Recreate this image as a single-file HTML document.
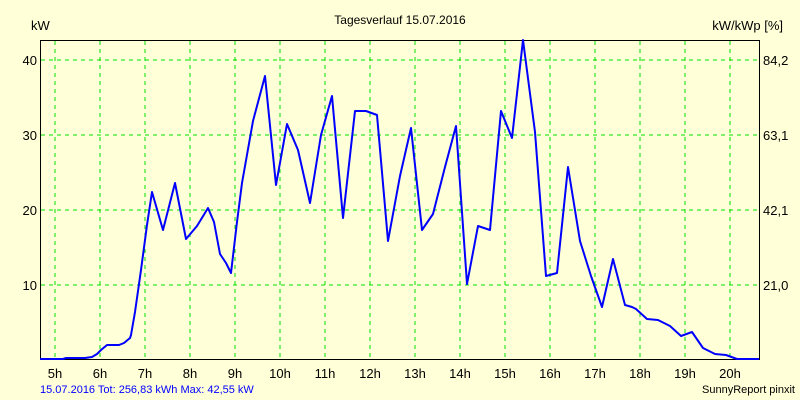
<!DOCTYPE html>
<html><head><meta charset="utf-8"><style>
body{margin:0;background:#ffffd8;}
svg{display:block;font-family:"Liberation Sans",sans-serif;}
</style></head><body>
<svg width="800" height="400" viewBox="0 0 800 400">
<rect width="800" height="400" fill="#ffffd8"/>
<g stroke="#00e000" stroke-width="1" stroke-dasharray="4,4">
<line x1="55" y1="41" x2="55" y2="359"/><line x1="100" y1="41" x2="100" y2="359"/><line x1="145" y1="41" x2="145" y2="359"/><line x1="190" y1="41" x2="190" y2="359"/><line x1="235" y1="41" x2="235" y2="359"/><line x1="280" y1="41" x2="280" y2="359"/><line x1="325" y1="41" x2="325" y2="359"/><line x1="370" y1="41" x2="370" y2="359"/><line x1="415" y1="41" x2="415" y2="359"/><line x1="460" y1="41" x2="460" y2="359"/><line x1="505" y1="41" x2="505" y2="359"/><line x1="550" y1="41" x2="550" y2="359"/><line x1="595" y1="41" x2="595" y2="359"/><line x1="640" y1="41" x2="640" y2="359"/><line x1="685" y1="41" x2="685" y2="359"/><line x1="730" y1="41" x2="730" y2="359"/>
<line x1="41" y1="60" x2="759" y2="60"/><line x1="41" y1="135" x2="759" y2="135"/><line x1="41" y1="210" x2="759" y2="210"/><line x1="41" y1="285" x2="759" y2="285"/>
</g>
<path d="M40.5,359.5V40.5H759.5V359.5H40.5" fill="none" stroke="#000" stroke-width="1"/>
<polyline fill="none" stroke="#0000ff" stroke-width="2" stroke-linejoin="round" points="40,359 63,359 66,358 85,358 92,357 97,354 101,350 107,345 119,345 124,343 130,338 131,335 135,312 141,270 147,225 152,192 163,230 175,183 186,239 197,226 208,208 214,222 220,254 226,263 231,273 237,222 242,183 253,121 265,76 276,185 287,124 298,150 310,203 321,135 332,96 343,218 355,111 366,111 377,115 388,241 400,176 411,128 422,230 433,214 445,167 456,126 467,284 478,226 490,230 501,111 512,138 523,40 535,132 546,276 557,273 568,167 580,241 591,276 602,307 613,259 625,305 632,307 636,309 647,319 658,320 670,326 681,336 692,332 703,348 715,354 726,355 737,359 759,359"/>
<g font-size="13" fill="#000">
<text x="400" y="24" text-anchor="middle" font-size="12">Tagesverlauf 15.07.2016</text>
<text x="31" y="30">kW</text>
<text x="783" y="30" text-anchor="end">kW/kWp [%]</text>
<text x="37" y="65" text-anchor="end">40</text><text x="37" y="140" text-anchor="end">30</text><text x="37" y="215" text-anchor="end">20</text><text x="37" y="290" text-anchor="end">10</text>
<text x="763" y="65">84,2</text><text x="763" y="140">63,1</text><text x="763" y="215">42,1</text><text x="763" y="290">21,0</text>
<g text-anchor="middle">
<text x="55" y="378">5h</text><text x="100" y="378">6h</text><text x="145" y="378">7h</text><text x="190" y="378">8h</text><text x="235" y="378">9h</text><text x="280" y="378">10h</text><text x="325" y="378">11h</text><text x="370" y="378">12h</text><text x="415" y="378">13h</text><text x="460" y="378">14h</text><text x="505" y="378">15h</text><text x="550" y="378">16h</text><text x="595" y="378">17h</text><text x="640" y="378">18h</text><text x="685" y="378">19h</text><text x="730" y="378">20h</text>
</g>
</g>
<text x="40" y="393" font-size="11" fill="#0000ff">15.07.2016 Tot: 256,83 kWh Max: 42,55 kW</text>
<text x="795" y="393" font-size="11" fill="#000" text-anchor="end">SunnyReport pinxit</text>
</svg>
</body></html>
